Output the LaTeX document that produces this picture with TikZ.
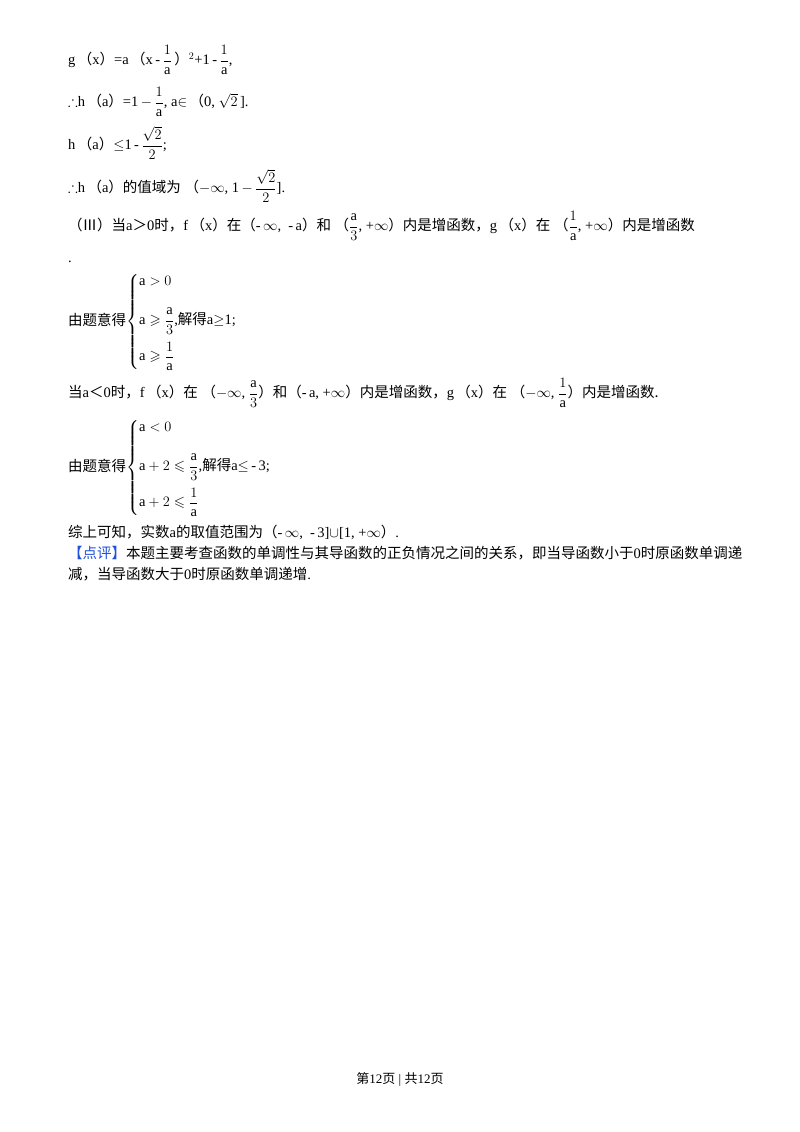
\documentclass[tikz,border=0pt]{standalone}
\usepackage{amsmath,amssymb}
\usepackage{fontspec}
\setmainfont{Liberation Serif}
\newfontfamily\cjk{Noto Sans CJK SC}
\begin{document}
\begin{tikzpicture}[x=1pt,y=-1pt,
  ln/.style={anchor=west,inner sep=0pt,font=\fontsize{14.5}{17}\selectfont}]
\useasboundingbox (0,0) rectangle (800,1132);
\fill[white] (0,0) rectangle (800,1132);
\node[ln] (l1) at (68,60) {g\,{\cjk（}x{\cjk）}=a\,{\cjk（}x\,-\,$\dfrac{1}{\mathrm a}$\,{\cjk）}$^2$+1\,-\,$\dfrac{1}{\mathrm a}$,};
\node[ln] (l2) at (68,102) {$\therefore$h\,{\cjk（}a{\cjk）}=1\,$-$\,$\dfrac{1}{\mathrm a}$,\ a$\in$\,{\cjk（}0,\ $\sqrt{2}$\,].};
\node[ln] (l3) at (68,143) {h\,{\cjk（}a{\cjk）}$\le$1\,-\,$\dfrac{\sqrt2}{2}$;};
\node[ln] (l4) at (68,186) {$\therefore$h\,{\cjk（}a{\cjk）的值域为}\ {\cjk（}$-\infty$,\ 1\,$-$\,$\dfrac{\sqrt2}{2}$].};
\node[ln] (l5) at (68,226) {{\cjk（Ⅲ）当}a{\cjk＞}0{\cjk 时，}f\,{\cjk（}x{\cjk）在（}-\,$\infty$,\ \ -\,a{\cjk）和}\ {\cjk（}$\dfrac{\mathrm a}{3}$,\ +$\infty${\cjk）内是增函数，}g\,{\cjk（}x{\cjk）在}\ {\cjk（}$\dfrac{1}{\mathrm a}$,\ +$\infty${\cjk）内是增函数}};
\node[ln] (l6) at (68,262) {.};
\node[ln] (s1) at (68,322) {{\cjk 由题意得}$\left\{\begin{array}{@{}l@{}}\mathrm{a}>0\\[18pt] \mathrm{a}\geqslant\dfrac{\mathrm a}{3}\text{,{\cjk 解得}a$\ge$1;}\\[12pt] \mathrm{a}\geqslant\dfrac{1}{\mathrm a}\end{array}\right.$};
\node[ln] (l7) at (68,393) {{\cjk 当}a{\cjk＜}0{\cjk 时，}f\,{\cjk（}x{\cjk）在}\ {\cjk（}$-\infty$,\ $\dfrac{\mathrm a}{3}${\cjk）和（}-\,a,\ +$\infty${\cjk）内是增函数，}g\,{\cjk（}x{\cjk）在}\ {\cjk（}$-\infty$,\ $\dfrac{1}{\mathrm a}${\cjk）内是增函数.}};
\node[ln] (s2) at (68,468) {{\cjk 由题意得}$\left\{\begin{array}{@{}l@{}}\mathrm{a}<0\\[18pt] \mathrm{a}+2\leqslant\dfrac{\mathrm a}{3}\text{,{\cjk 解得}a$\le$\,-\,3;}\\[12pt] \mathrm{a}+2\leqslant\dfrac{1}{\mathrm a}\end{array}\right.$};
\node[ln] (l8) at (68,532) {{\cjk 综上可知，实数}a{\cjk 的取值范围为（}-\,$\infty$,\ \ -\,3]$\cup$[1,\ +$\infty${\cjk）}.};
\node[ln] (l9) at (68,553) {{\cjk\color[RGB]{30,80,220}【点评】}{\cjk 本题主要考查函数的单调性与其导函数的正负情况之间的关系，即当导函数小于}0{\cjk 时原函数单调递}};
\node[ln] (l10) at (68,574) {{\cjk 减，当导函数大于}0{\cjk 时原函数单调递增}.};
\node[anchor=center,inner sep=0pt,font=\fontsize{13}{15}\selectfont] (ft) at (400,1079) {{\cjk 第}12{\cjk 页}\ |\ {\cjk 共}12{\cjk 页}};
\end{tikzpicture}
\end{document}
